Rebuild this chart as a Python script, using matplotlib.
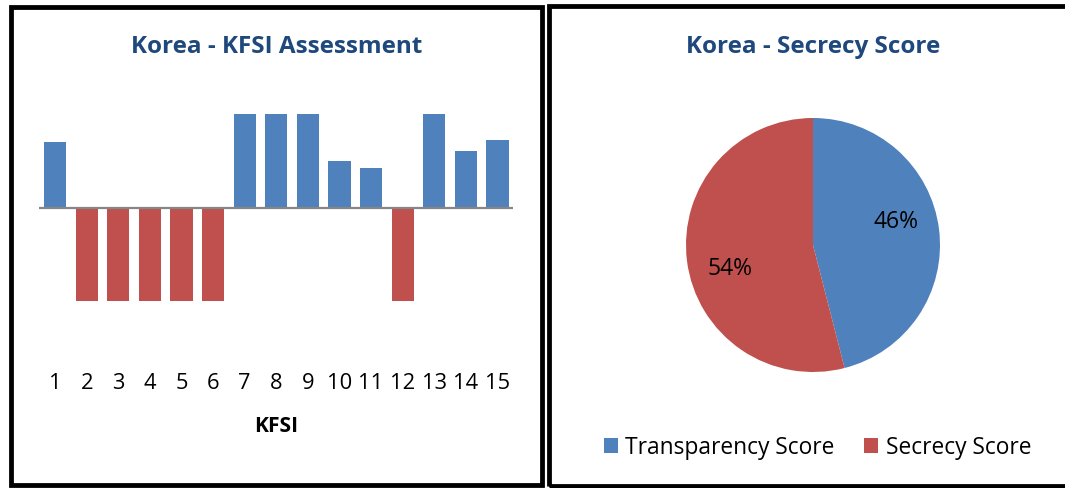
import matplotlib
matplotlib.use('Agg')
import matplotlib.pyplot as plt
from matplotlib.patches import Rectangle

# ---------------- data ----------------
kfsi_ids = list(range(1, 16))
kfsi_values = [0.70, -1.0, -1.0, -1.0, -1.0, -1.0, 1.0, 1.0, 1.0, 0.50, 0.42, -1.0, 1.0, 0.60, 0.72]
tick_labels = [str(i) for i in kfsi_ids]
pie_labels = ['Transparency Score', 'Secrecy Score']
pie_values = [46, 54]
left_title = 'Korea - KFSI Assessment'
right_title = 'Korea - Secrecy Score'
x_label = 'KFSI'

# ---------------- style ----------------
W, H, DPI = 1065, 488, 100
BLUE = '#4F81BD'
RED = '#C0504D'
TITLE_C = '#1F497D'
AXIS_C = '#868686'
plt.rcParams['font.family'] = ['Open Sans', 'DejaVu Sans']

fig = plt.figure(figsize=(W / DPI, H / DPI), dpi=DPI)
fig.patch.set_facecolor('white')
renderer = fig.canvas.get_renderer()


def fit_size(s, target_px, weight='normal'):
    t = fig.text(0, 0, s, fontsize=20, fontweight=weight)
    w = t.get_window_extent(renderer).width
    t.remove()
    return 20 * target_px / w


def rect(x0, y0, x1, y1):
    return [x0 / W, 1 - y1 / H, (x1 - x0) / W, (y1 - y0) / H]


def fx(x):
    return x / W


def fy(y):
    return 1 - y / H


title_fs = fit_size(left_title, 292, 'bold')
tick_fs = fit_size('10', 25)
xlabel_fs = fit_size(x_label, 44, 'bold')
pct_fs = fit_size('46%', 45)
legend_fs = fit_size(pie_labels[0], 209)

# ---------------- bar chart ----------------
base_y, unit = 207.5, 93.5
ymin, ymax = -1.7, 1.3
ax_top_px = base_y - ymax * unit
ax_bot_px = base_y - ymin * unit
ax = fig.add_axes(rect(39.3, ax_top_px, 513.3, ax_bot_px))
colors = [BLUE if v >= 0 else RED for v in kfsi_values]
ax.bar(kfsi_ids, kfsi_values, width=0.70, color=colors, zorder=2)
ax.axhline(0, color=AXIS_C, lw=1.6, zorder=3)
ax.set_xlim(0.5, 15.5)
ax.set_ylim(ymin, ymax)
for s in ax.spines.values():
    s.set_visible(False)
ax.set_yticks([])
ax.set_xticks(kfsi_ids)
ax.set_xticklabels(tick_labels)
ax.tick_params(axis='x', length=0, pad=5.0, labelsize=tick_fs, labelcolor='black')
ax_h = ax_bot_px - ax_top_px
ax.set_xlabel(x_label, fontsize=xlabel_fs, fontweight='bold', color='black')
ax.xaxis.set_label_coords(0.5, -(432 - ax_bot_px) / ax_h)
ax.xaxis.label.set_va('baseline')
ax.set_title(left_title, fontsize=title_fs, fontweight='bold', color=TITLE_C,
             y=1 + (ax_top_px - 53.3) / ax_h, va='baseline', pad=0)

# ---------------- pie chart ----------------
pax = fig.add_axes(rect(686, 118, 940, 372))
wedges, texts, autotexts = pax.pie(
    pie_values, colors=[BLUE, RED], startangle=90, counterclock=False,
    autopct='%1.0f%%', pctdistance=0.66, radius=1.0,
    textprops={'fontsize': pct_fs, 'color': 'black'},
    wedgeprops={'linewidth': 0})
for t in autotexts:
    x, y = t.get_position()
    t.set_position((x, y + (0.10 if y > 0 else -0.11)))
pax.set_xlim(-1, 1)
pax.set_ylim(-1, 1)
pax.set_aspect('equal')
pax.axis('off')
pax.set_title(right_title, fontsize=title_fs, fontweight='bold', color=TITLE_C,
              y=1 + (118 - 53.3) / 254, va='baseline', pad=0)

fs_px = legend_fs * DPI / 72
leg = fig.legend(wedges, pie_labels, loc='center',
                 bbox_to_anchor=(fx(817.3), fy(447.5)), ncol=2, frameon=False,
                 fontsize=legend_fs, handlelength=14.5 / fs_px, handleheight=14.5 / fs_px,
                 handletextpad=7.3 / fs_px, columnspacing=29 / fs_px,
                 borderpad=0, borderaxespad=0)

# ---------------- panel borders ----------------
bw = 4.8 * 72 / DPI
fig.patches.append(Rectangle((fx(10.5), fy(485)), fx(541.8) - fx(10.5), fy(6.5) - fy(485),
                             transform=fig.transFigure, fill=False, ec='black', lw=bw))
fig.patches.append(Rectangle((fx(548.5), fy(486)), fx(1070) - fx(548.5), fy(6.5) - fy(486),
                             transform=fig.transFigure, fill=False, ec='black', lw=bw))

fig.savefig('out.png', dpi=DPI, facecolor='white')
